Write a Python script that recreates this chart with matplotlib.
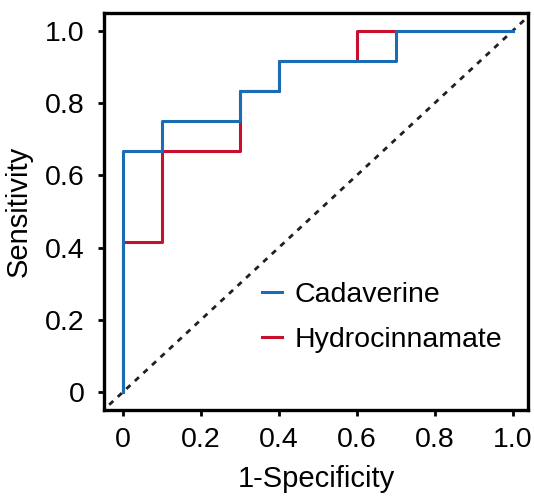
import matplotlib
matplotlib.use("Agg")
import matplotlib.pyplot as plt

plt.rcParams['font.family'] = ['Liberation Sans', 'DejaVu Sans']

cad_fpr = [0, 0, 0.1, 0.1, 0.3, 0.3, 0.4, 0.4, 0.7, 0.7, 1.0]
cad_tpr = [0, 0.667, 0.667, 0.75, 0.75, 0.833, 0.833, 0.917, 0.917, 1.0, 1.0]
hyd_fpr = [0, 0, 0.1, 0.1, 0.3, 0.3, 0.4, 0.4, 0.6, 0.6, 1.0]
hyd_tpr = [0, 0.417, 0.417, 0.667, 0.667, 0.833, 0.833, 0.917, 0.917, 1.0, 1.0]
ticks = [0, 0.2, 0.4, 0.6, 0.8, 1.0]
tick_labels = ["0", "0.2", "0.4", "0.6", "0.8", "1.0"]

fig = plt.figure(figsize=(5.34, 4.96), dpi=100)
ax = fig.add_axes([0.195, 0.173, 0.794, 0.801])

ax.plot([-0.035, 1.03], [-0.035, 1.03], color='#231f20', lw=2, linestyle=(0, (2, 2.2)))
l2, = ax.plot(hyd_fpr, hyd_tpr, color='#c8102e', lw=2.2, label='Hydrocinnamate')
l1, = ax.plot(cad_fpr, cad_tpr, color='#1a6db5', lw=2.2, label='Cadaverine')

ax.set_xlim(-0.048, 1.04)
ax.set_ylim(-0.05, 1.05)
ax.set_xticks(ticks)
ax.set_xticklabels(tick_labels)
ax.set_yticks(ticks)
ax.set_yticklabels(tick_labels)
ax.tick_params(labelsize=20.5, width=2, length=4)
ax.tick_params(axis='y', pad=10)
ax.tick_params(axis='x', pad=8)
for s in ax.spines.values():
    s.set_linewidth(2.4)
ax.set_xlabel('1-Specificity', fontsize=21, labelpad=9)
ax.set_ylabel('Sensitivity', fontsize=21, labelpad=9)

ax.legend(handles=[l1, l2], loc='lower right', bbox_to_anchor=(1.0, 0.08), frameon=False,
          fontsize=20.5, handlelength=0.7, handletextpad=0.45, labelspacing=0.65)

fig.savefig('out.png', dpi=100)
